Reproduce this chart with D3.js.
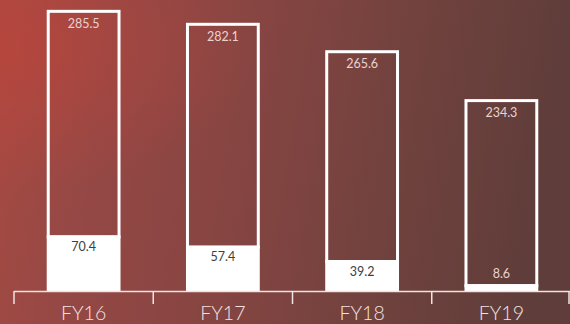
<!DOCTYPE html>
<html>
<head>
<meta charset="utf-8">
<script src="https://cdn.jsdelivr.net/npm/d3@7"></script>
<style>
  html, body { margin: 0; padding: 0; overflow: hidden; }
  svg { display: block; }
</style>
</head>
<body>
<svg id="chart" width="570" height="324"></svg>
<script>
const categories = ["FY16", "FY17", "FY18", "FY19"];
const upperValues = [285.5, 282.1, 265.6, 234.3];
const lowerValues = [70.4, 57.4, 39.2, 8.6];

const W = 570, H = 324;
const svg = d3.select("#chart");

// background
const defs = svg.append("defs");
const lg = defs.append("linearGradient").attr("id", "bg").attr("x1", "0").attr("y1", "0").attr("x2", "1").attr("y2", "0.1");
[["0%", "#a84a42"], ["20%", "#954845"], ["45%", "#874542"], ["72%", "#72423e"], ["100%", "#5f3d3a"]]
  .forEach(([o, c]) => lg.append("stop").attr("offset", o).attr("stop-color", c));
const rg = defs.append("radialGradient").attr("id", "glow").attr("cx", "0").attr("cy", "0.15").attr("r", "0.45");
rg.append("stop").attr("offset", "0%").attr("stop-color", "#c0443a").attr("stop-opacity", 0.6);
rg.append("stop").attr("offset", "100%").attr("stop-color", "#c0443a").attr("stop-opacity", 0);
svg.append("rect").attr("width", W).attr("height", H).attr("fill", "url(#bg)");
svg.append("rect").attr("width", W).attr("height", H).attr("fill", "url(#glow)");

const data = categories.map((c, i) => ({ cat: c, upper: upperValues[i], lower: lowerValues[i] }));

const x = d3.scaleBand().domain(categories).range([14, 571]).paddingInner(0.47).paddingOuter(0.235);
const y = d3.scaleLinear().domain([0, 360]).range([291, 291 - 360 * 0.79]);

const fontFam = "Lato, 'Open Sans', sans-serif";
const sw = 3;

const g = svg.append("g");

// outlined upper portion
g.selectAll("rect.outline").data(data).join("rect")
  .attr("class", "outline")
  .attr("x", d => x(d.cat) + sw / 2)
  .attr("y", d => y(d.upper + d.lower) + sw / 2)
  .attr("width", x.bandwidth() - sw)
  .attr("height", d => y(d.lower) - y(d.upper + d.lower))
  .attr("fill", "none")
  .attr("stroke", "#ffffff")
  .attr("stroke-width", sw);

// filled lower portion
g.selectAll("rect.fill").data(data).join("rect")
  .attr("class", "fill")
  .attr("x", d => x(d.cat))
  .attr("y", d => y(d.lower))
  .attr("width", x.bandwidth())
  .attr("height", d => y(0) - y(d.lower))
  .attr("fill", "#ffffff");

// upper labels
g.selectAll("text.up").data(data).join("text")
  .attr("class", "up")
  .attr("x", d => x(d.cat) + x.bandwidth() / 2)
  .attr("y", d => y(d.upper + d.lower) + 18)
  .attr("text-anchor", "middle")
  .attr("font-family", fontFam)
  .attr("font-size", 12.5)
  .attr("fill", "#ead2cf")
  .text(d => d.upper.toFixed(1));

// lower labels
g.selectAll("text.low").data(data).join("text")
  .attr("class", "low")
  .attr("x", d => x(d.cat) + x.bandwidth() / 2)
  .attr("y", d => (y(0) - y(d.lower) > 20) ? y(d.lower) + 15.5 : y(d.lower) - 6.7)
  .attr("text-anchor", "middle")
  .attr("font-family", fontFam)
  .attr("font-size", 12.5)
  .attr("fill", d => (y(0) - y(d.lower) > 20) ? "#3e3e3e" : "#ead2cf")
  .text(d => d.lower.toFixed(1));

// axis
const axisColor = "#f2e2e0";
const step = x.step();
const start = x.range()[0];
svg.append("line")
  .attr("x1", start).attr("x2", W).attr("y1", y(0) + 0.5).attr("y2", y(0) + 0.5)
  .attr("stroke", axisColor).attr("stroke-width", 1.5);
const tickPos = d3.range(categories.length + 1).map(i => start + i * step);
svg.selectAll("line.tick").data(tickPos).join("line")
  .attr("class", "tick")
  .attr("x1", d => Math.min(d, W - 1)).attr("x2", d => Math.min(d, W - 1))
  .attr("y1", y(0)).attr("y2", y(0) + 13)
  .attr("stroke", axisColor).attr("stroke-width", 1.5);

svg.selectAll("text.cat").data(categories).join("text")
  .attr("class", "cat")
  .attr("x", d => x(d) + x.bandwidth() / 2)
  .attr("y", 320)
  .attr("text-anchor", "middle")
  .attr("font-family", fontFam)
  .attr("font-size", 19.5)
  .attr("font-weight", 300)
  .attr("fill", "#f3e3e1")
  .text(d => d);
</script>
</body>
</html>
